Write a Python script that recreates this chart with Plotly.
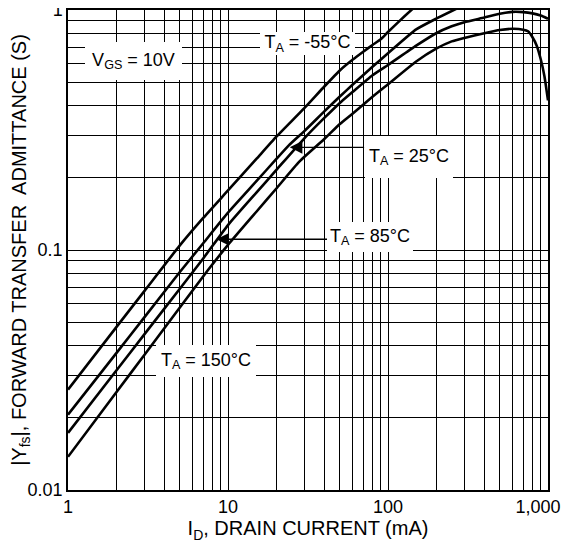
import plotly.graph_objects as go

# ---- data ----
id_m55 = [1, 2, 3, 5, 7, 10, 15, 20, 30, 40, 50, 60, 70, 80, 90, 100, 120, 140, 150]
yfs_m55 = [0.0262, 0.0476, 0.0674, 0.1045, 0.136, 0.177, 0.239, 0.296, 0.39, 0.48, 0.56,
           0.62, 0.67, 0.715, 0.755, 0.81, 0.91, 1.0, 1.04]

id_25 = [1, 2, 3, 5, 7, 10, 15, 20, 24, 30, 40, 50, 60, 80, 100, 150, 200, 250, 300]
yfs_25 = [0.0206, 0.0371, 0.0524, 0.081, 0.1067, 0.143, 0.193, 0.239, 0.273, 0.313, 0.378,
          0.436, 0.488, 0.58, 0.66, 0.83, 0.92, 0.99, 1.05]

id_85 = [1, 2, 3, 5, 7, 10, 15, 20, 30, 40, 50, 60, 80, 100, 150, 200, 250, 300, 400,
         500, 600, 700, 800, 900, 1000]
yfs_85 = [0.0173, 0.0314, 0.0445, 0.069, 0.0922, 0.127, 0.173, 0.215, 0.292, 0.355, 0.41,
          0.455, 0.535, 0.59, 0.71, 0.80, 0.855, 0.89, 0.93, 0.965, 0.982, 0.98, 0.968,
          0.948, 0.92]

id_150 = [1, 2, 3, 5, 7.5, 10, 15, 20, 28, 40, 50, 60, 80, 100, 150, 200, 250, 300, 400,
          500, 600, 700, 750, 800, 850, 900, 950, 1000]
yfs_150 = [0.01375, 0.0255, 0.0365, 0.0576, 0.0825, 0.105, 0.144, 0.18, 0.234, 0.29, 0.335,
           0.37, 0.435, 0.49, 0.61, 0.69, 0.74, 0.765, 0.80, 0.825, 0.835, 0.828, 0.815,
           0.77, 0.71, 0.625, 0.53, 0.42]

x_tick_vals = [1, 2, 3, 4, 5, 6, 7, 8, 9,
               10, 20, 30, 40, 50, 60, 70, 80, 90,
               100, 200, 300, 400, 500, 600, 700, 800, 900, 1000]
# the last label carries an invisible pad so it sits left of the edge, as in the reference
x_tick_text = ["1", "", "", "", "", "", "", "", "",
               "10", "", "", "", "", "", "", "", "",
               "100", "", "", "", "", "", "", "", "",
               "1,000<span style='color:white'>00</span>"]
y_tick_vals = [0.01, 0.02, 0.03, 0.04, 0.05, 0.06, 0.07, 0.08, 0.09,
               0.1, 0.2, 0.3, 0.4, 0.5, 0.6, 0.7, 0.8, 0.9, 1]
y_tick_text = ["0.01", "", "", "", "", "", "", "", "",
               "0.1", "", "", "", "", "", "", "", "", "1"]

series = [
    ("T_A = -55°C", id_m55, yfs_m55),
    ("T_A = 25°C", id_25, yfs_25),
    ("T_A = 85°C", id_85, yfs_85),
    ("T_A = 150°C", id_150, yfs_150),
]

FONT = "Liberation Sans, Arial, sans-serif"

fig = go.Figure()
for name, xs, ys in series:
    fig.add_trace(go.Scatter(
        x=xs, y=ys, mode="lines", name=name,
        line=dict(color="black", width=2.6, shape="spline", smoothing=0.5),
        hoverinfo="skip",
    ))

axis_common = dict(
    type="log", showgrid=True, gridcolor="black", gridwidth=1,
    showline=True, linecolor="black", linewidth=1.5, mirror=True,
    ticks="", zeroline=False, automargin=False,
    ticklabeloverflow="allow",
    tickfont=dict(family=FONT, size=18, color="black"),
)

fig.update_xaxes(
    **axis_common, range=[0, 3],
    tickmode="array", tickvals=x_tick_vals, ticktext=x_tick_text,
    title=dict(text="I<sub>D</sub>, DRAIN CURRENT (mA)",
               font=dict(family=FONT, size=20, color="black"), standoff=2),
)
fig.update_yaxes(
    **axis_common, range=[-2, 0],
    tickmode="array", tickvals=y_tick_vals, ticktext=y_tick_text,
    title=dict(text="|Y<sub>fs</sub>|, FORWARD TRANSFER\u00a0 ADMITTANCE (S)",
               font=dict(family=FONT, size=20, color="black"), standoff=2),
)

lab_font = dict(family=FONT, size=18, color="black")

# arrows (drawn first, label boxes cover their tails)
arrows = [
    # (tip_x, tip_y, tail_x, tail_y) in log10 units
    (1.386, -0.5723, 1.86, -0.5723),
    (0.9275, -0.9553, 1.63, -0.9553),
]
for tx, ty, sx, sy in arrows:
    fig.add_annotation(
        x=tx, y=ty, ax=sx, ay=sy, xref="x", yref="y", axref="x", ayref="y",
        text="", showarrow=True, arrowhead=2, arrowsize=1.8, arrowwidth=1.4,
        arrowcolor="black", standoff=0, startstandoff=0,
    )

labels = [
    ("V<sub>GS</sub> = 10V", 0.4075, -0.2144, 97, 38),
    ("T<sub>A</sub> = -55°C", 1.495, -0.1415, 95, 23),
    ("T<sub>A</sub> = 25°C", 2.129, -0.614, 88, 42),
    ("T<sub>A</sub> = 85°C", 1.8856, -0.947, 86, 30),
    ("T<sub>A</sub> = 150°C", 0.86, -1.463, 100, 32),
]
for txt, lx, ly, w, h in labels:
    fig.add_annotation(
        x=lx, y=ly, xref="x", yref="y", text=txt, showarrow=False,
        font=lab_font, bgcolor="white", width=w, height=h,
        borderpad=0, borderwidth=0,
    )

# the page body adds an 8px offset; margins are set so the plot lands where the reference has it
fig.update_layout(
    template="none",
    width=569, height=542,
    margin=dict(l=60, r=29, t=1.5, b=60, autoexpand=False),
    plot_bgcolor="white", paper_bgcolor="white",
    showlegend=False,
    font=dict(family=FONT, color="black"),
)

fig.write_html("out.html")
